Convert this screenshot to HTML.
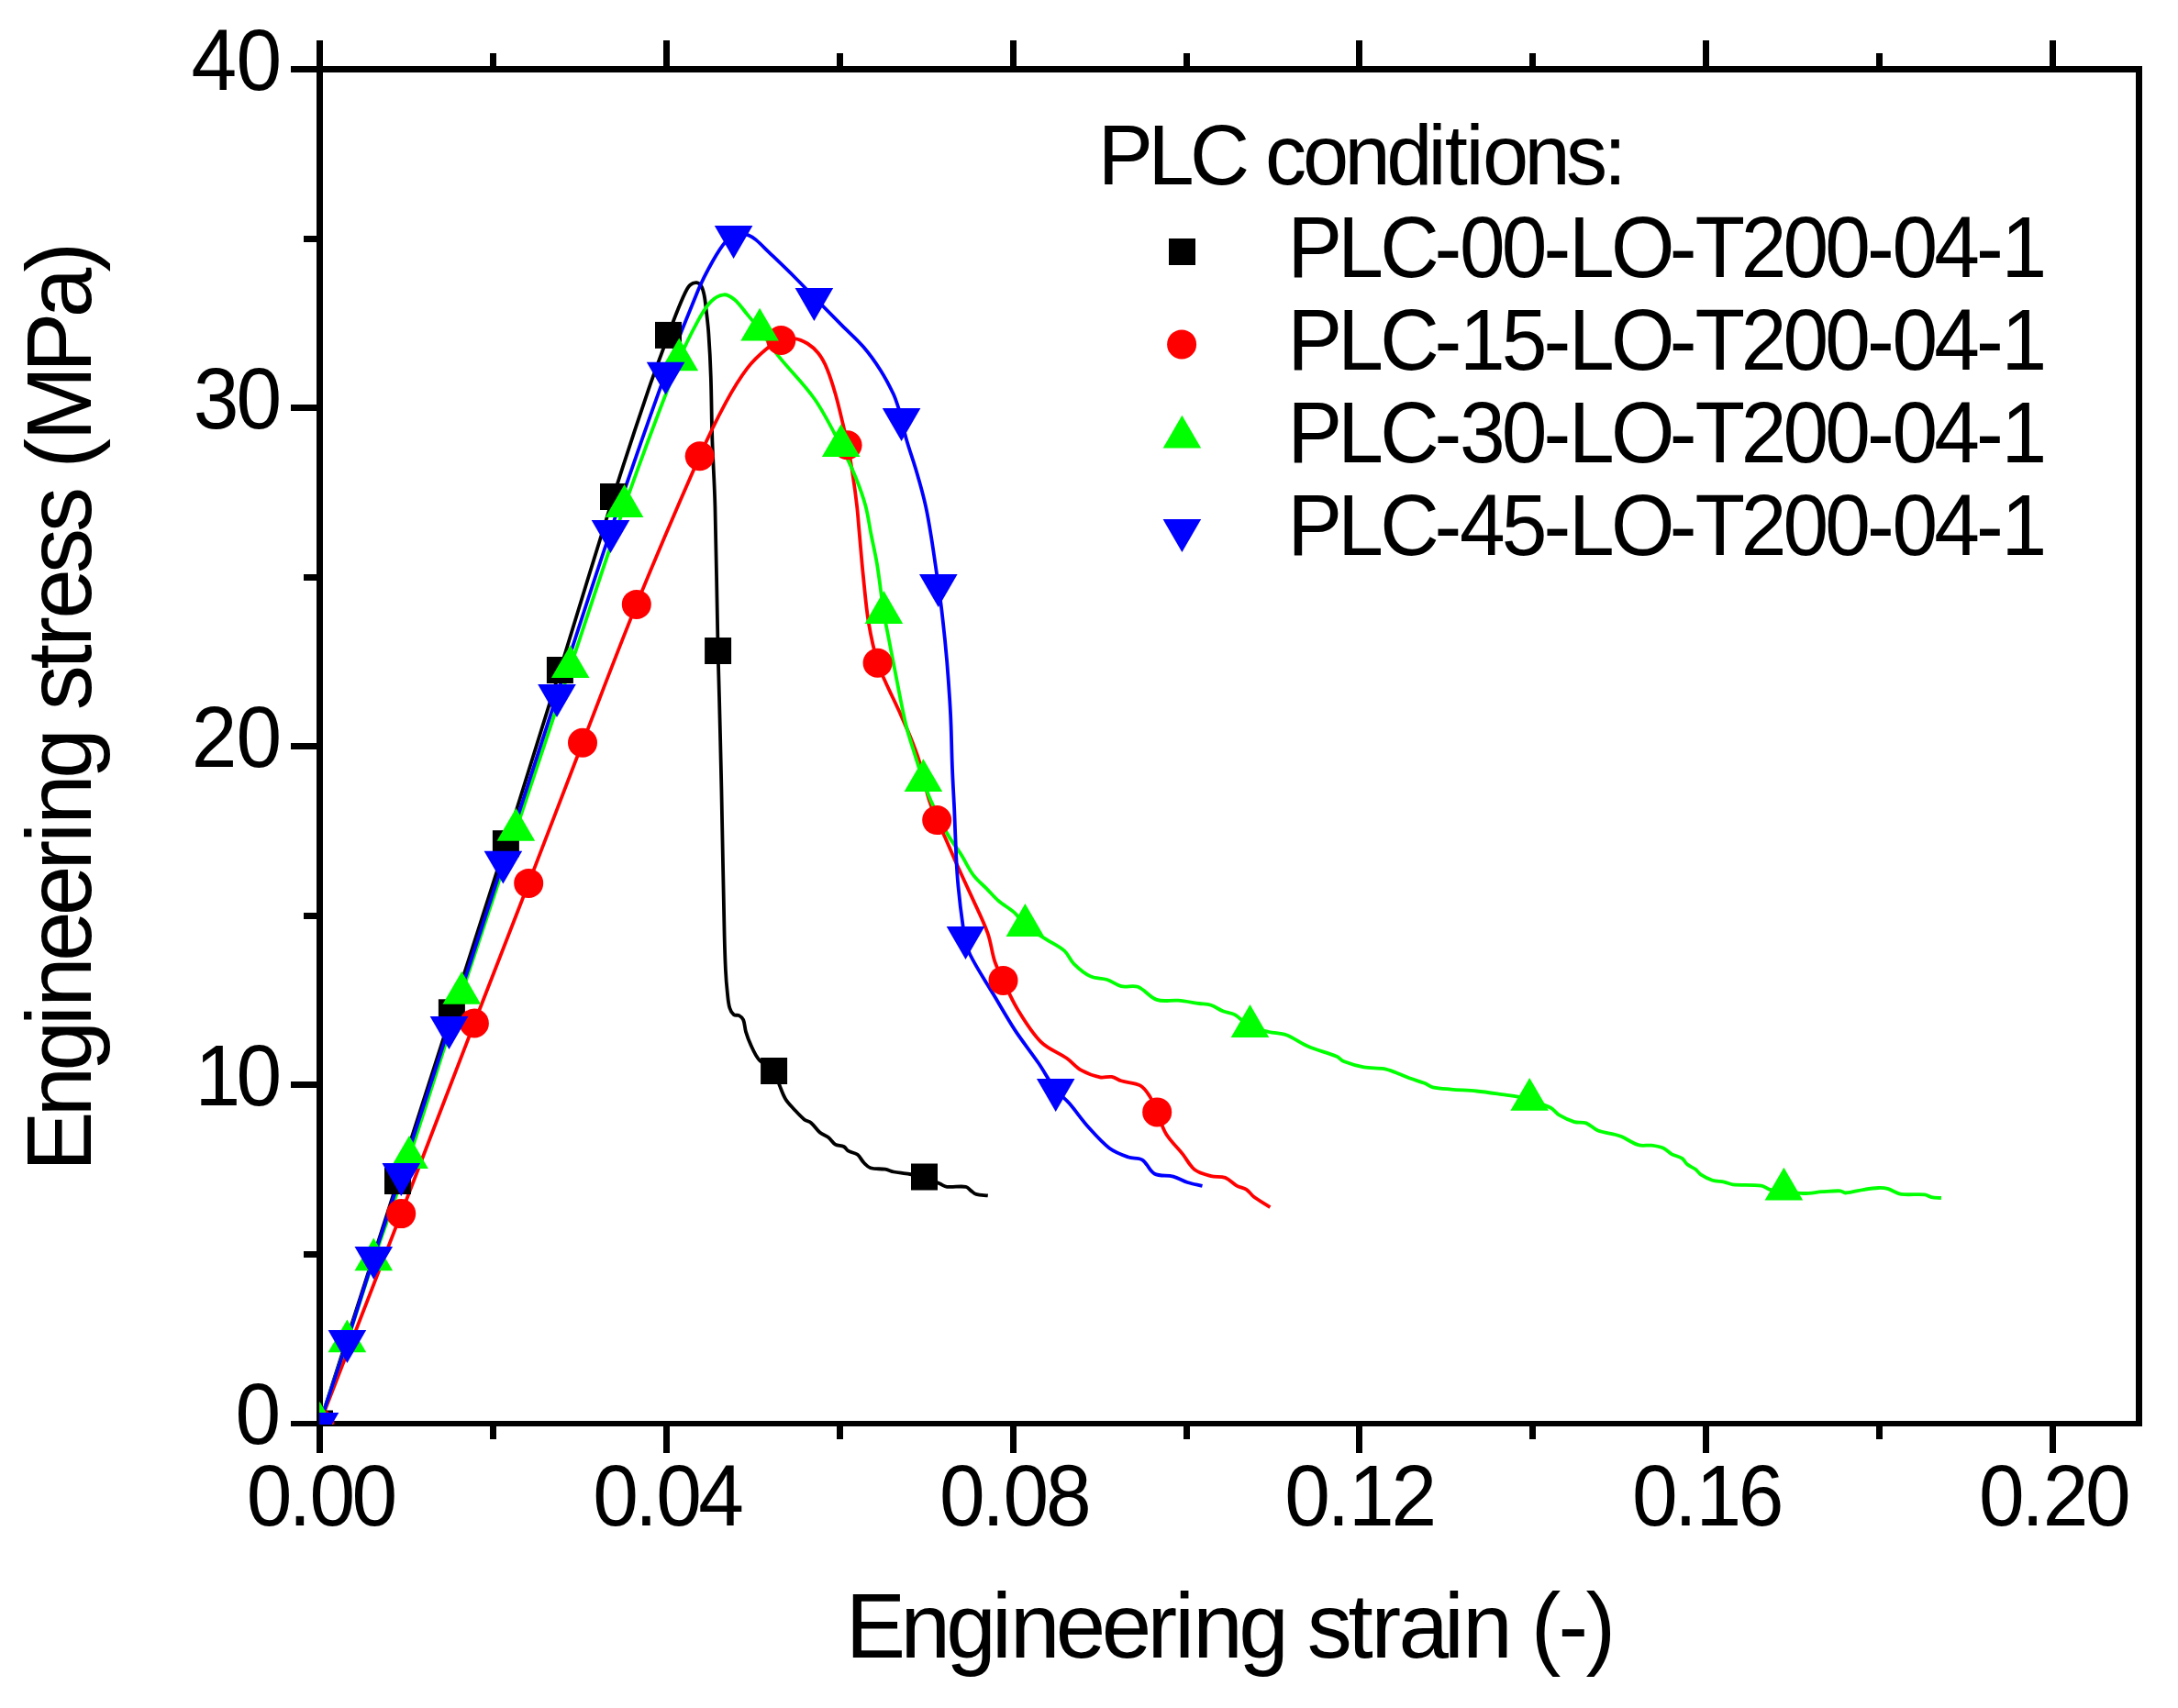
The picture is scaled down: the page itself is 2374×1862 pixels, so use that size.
<!DOCTYPE html>
<html lang="en"><head><meta charset="utf-8"><title>Engineering stress vs. engineering strain</title>
<style>
html,body{margin:0;padding:0;background:#fff;}
body{width:2374px;height:1862px;overflow:hidden;}
svg{display:block;}
text{font-family:"Liberation Sans",sans-serif;fill:#000;font-kerning:none;white-space:pre;}
</style></head><body>
<svg width="2374" height="1862" viewBox="0 0 2374 1862">
<rect x="0" y="0" width="2374" height="1862" fill="#fff"/>
<g fill="#000" shape-rendering="crispEdges">
<rect x="345" y="72" width="7" height="1483"/>
<rect x="2328" y="72" width="7" height="1483"/>
<rect x="345" y="72" width="1990" height="7"/>
<rect x="345" y="1549" width="1990" height="6"/>
<rect x="345" y="44" width="7" height="28"/>
<rect x="345" y="1555" width="7" height="29"/>
<rect x="534" y="58" width="7" height="14"/>
<rect x="534" y="1555" width="7" height="14"/>
<rect x="723" y="44" width="7" height="28"/>
<rect x="723" y="1555" width="7" height="29"/>
<rect x="912" y="58" width="7" height="14"/>
<rect x="912" y="1555" width="7" height="14"/>
<rect x="1101" y="44" width="7" height="28"/>
<rect x="1101" y="1555" width="7" height="29"/>
<rect x="1290" y="58" width="7" height="14"/>
<rect x="1290" y="1555" width="7" height="14"/>
<rect x="1478" y="44" width="7" height="28"/>
<rect x="1478" y="1555" width="7" height="29"/>
<rect x="1667" y="58" width="7" height="14"/>
<rect x="1667" y="1555" width="7" height="14"/>
<rect x="1856" y="44" width="7" height="28"/>
<rect x="1856" y="1555" width="7" height="29"/>
<rect x="2045" y="58" width="7" height="14"/>
<rect x="2045" y="1555" width="7" height="14"/>
<rect x="2234" y="44" width="7" height="28"/>
<rect x="2234" y="1555" width="7" height="29"/>
<rect x="317" y="1549" width="28" height="6"/>
<rect x="331" y="1364" width="14" height="7"/>
<rect x="317" y="1179" width="28" height="7"/>
<rect x="331" y="995" width="14" height="7"/>
<rect x="317" y="810" width="28" height="7"/>
<rect x="331" y="626" width="14" height="7"/>
<rect x="317" y="441" width="28" height="7"/>
<rect x="331" y="257" width="14" height="7"/>
<rect x="317" y="72" width="28" height="7"/>
</g>
<clipPath id="plotclip"><rect x="348" y="0" width="1983" height="1553"/></clipPath>
<g clip-path="url(#plotclip)">
<path d="M348.5 1552.0 C376.8 1463.8 405.2 1375.7 433.5 1287.5 C453.2 1226.3 472.8 1165.0 492.4 1103.8 C512.1 1042.4 532.0 981.1 551.4 919.7 C571.3 856.7 590.9 793.6 610.4 730.5 C629.9 667.5 648.7 604.4 668.5 541.5 C680.8 502.5 693.6 463.6 706.8 424.8 C713.6 404.8 721.3 385.2 728.5 365.4 C731.2 358.1 733.6 350.7 736.5 343.5 C739.7 335.4 742.9 327.2 746.7 319.4 C748.2 316.2 749.8 312.8 752.5 310.5 C754.3 308.9 757.1 307.9 759.5 308.2 C761.6 308.5 763.4 310.2 764.4 312.0 C766.2 315.0 766.9 318.6 767.6 322.0 C768.8 327.9 769.3 334.0 770.0 340.0 C770.9 348.0 771.9 355.9 772.4 363.9 C773.5 379.5 774.3 395.2 774.8 410.8 C775.6 434.2 775.6 457.6 776.4 481.0 C777.2 504.4 778.8 527.9 779.4 551.3 C780.8 604.0 781.4 656.8 782.6 709.5 C783.0 726.3 783.6 743.2 784.0 760.0 C784.8 793.3 785.7 826.7 786.4 860.0 C787.5 913.3 788.4 966.7 789.6 1020.0 C789.9 1032.5 790.3 1045.0 790.9 1057.5 C791.3 1065.6 791.9 1073.7 792.8 1081.8 C793.4 1087.5 793.7 1093.2 795.3 1098.7 C796.1 1101.5 797.6 1104.3 799.9 1106.2 C801.4 1107.4 803.9 1106.2 805.6 1107.1 C807.5 1108.1 809.4 1109.8 810.2 1111.8 C811.9 1115.9 811.7 1120.6 813.0 1124.9 C814.5 1130.0 816.4 1135.1 818.7 1139.9 C821.1 1145.1 823.3 1150.6 827.1 1154.9 C831.7 1160.0 839.3 1162.1 843.6 1167.5 C847.1 1171.8 847.5 1177.9 849.6 1183.0 C851.7 1188.0 853.3 1193.3 856.1 1197.9 C858.6 1202.1 862.2 1205.6 865.5 1209.2 C869.1 1213.1 872.6 1217.1 876.7 1220.4 C878.9 1222.2 882.0 1222.4 884.2 1224.2 C887.8 1227.2 890.1 1231.5 893.6 1234.5 C896.4 1236.9 900.1 1237.9 903.0 1240.1 C905.8 1242.3 907.4 1245.8 910.4 1247.6 C913.2 1249.2 916.9 1248.5 919.8 1250.0 C921.8 1251.0 922.6 1253.6 924.5 1254.7 C927.7 1256.6 931.8 1256.6 934.8 1258.8 C937.6 1260.9 938.8 1264.7 941.3 1267.2 C943.5 1269.5 945.8 1272.2 948.8 1273.2 C953.9 1274.8 959.5 1273.8 964.8 1274.7 C968.0 1275.2 970.9 1276.8 974.1 1277.5 C978.4 1278.4 982.8 1278.7 987.2 1279.4 C994.0 1280.5 1000.9 1281.0 1007.5 1283.0 C1013.5 1284.8 1019.0 1288.1 1024.7 1290.6 C1027.2 1291.7 1029.5 1293.5 1032.2 1293.8 C1039.0 1294.6 1046.0 1292.7 1052.8 1293.8 C1055.1 1294.2 1056.5 1296.7 1058.4 1298.1 C1060.2 1299.4 1061.8 1301.3 1064.0 1301.9 C1068.1 1303.1 1072.5 1302.9 1076.8 1303.4" fill="none" stroke="#000" stroke-width="3.8" stroke-linejoin="round" stroke-linecap="butt"/>
<path d="M348.5 1552.0 C378.1 1475.7 407.7 1399.4 437.2 1323.1 C463.9 1253.9 490.2 1184.7 516.9 1115.5 C536.5 1064.6 556.5 1013.8 576.2 962.9 C595.9 911.9 615.3 860.8 635.0 809.8 C654.5 759.5 673.4 708.9 693.8 658.9 C716.0 604.7 739.0 550.8 762.7 497.2 C771.4 477.4 780.8 457.9 791.1 438.9 C798.1 425.9 805.7 413.1 814.6 401.4 C820.6 393.5 828.0 386.6 835.6 380.3 C840.3 376.4 845.6 373.0 851.3 370.9 C856.0 369.2 861.2 368.5 866.1 369.1 C871.1 369.7 875.8 371.9 880.1 374.5 C884.6 377.3 888.7 380.9 891.9 385.0 C895.8 389.9 898.8 395.6 901.2 401.4 C905.0 410.5 907.9 420.0 910.6 429.5 C913.7 440.3 916.2 451.3 918.8 462.3 C920.6 469.8 922.5 477.4 924.0 485.0 C926.0 495.4 927.7 505.8 929.3 516.2 C931.1 527.9 932.7 539.6 934.0 551.3 C935.1 560.8 935.7 570.4 936.6 580.0 C938.0 595.6 939.2 611.2 940.8 626.8 C942.6 644.0 943.9 661.3 946.7 678.4 C949.2 693.3 952.4 708.2 956.6 722.7 C958.7 730.1 962.3 736.9 965.4 743.9 C970.7 755.7 976.5 767.3 981.8 779.1 C986.3 789.2 990.7 799.3 994.7 809.5 C997.7 817.2 1000.6 825.0 1002.9 832.9 C1006.5 845.3 1008.5 858.1 1012.2 870.4 C1014.6 878.5 1017.9 886.3 1021.2 894.1 C1024.2 901.2 1027.9 907.9 1031.0 914.9 C1035.1 924.0 1038.9 933.3 1043.0 942.5 C1048.4 954.5 1054.1 966.4 1059.5 978.4 C1065.3 991.3 1071.9 1004.0 1076.6 1017.3 C1080.2 1027.3 1081.0 1038.1 1084.3 1048.2 C1086.7 1055.4 1090.3 1062.1 1093.5 1068.9 C1098.4 1079.3 1102.8 1089.9 1108.8 1099.7 C1116.5 1112.3 1124.1 1125.3 1134.6 1135.8 C1142.5 1143.7 1153.8 1147.4 1162.9 1153.8 C1168.4 1157.7 1172.6 1163.4 1178.4 1166.7 C1184.8 1170.3 1191.8 1172.9 1199.0 1174.4 C1203.2 1175.3 1207.6 1173.2 1211.8 1173.9 C1215.5 1174.5 1218.5 1177.2 1222.1 1178.3 C1228.9 1180.4 1236.5 1180.0 1242.8 1183.4 C1247.4 1185.9 1250.3 1190.6 1253.1 1195.0 C1256.5 1200.4 1258.6 1206.5 1261.2 1212.4 C1264.6 1220.3 1266.6 1228.9 1271.1 1236.2 C1276.0 1244.3 1283.2 1250.7 1289.1 1258.1 C1293.5 1263.6 1296.4 1270.6 1302.0 1274.9 C1307.1 1278.9 1313.8 1280.4 1320.0 1282.1 C1325.0 1283.4 1330.6 1282.1 1335.5 1283.9 C1340.4 1285.8 1343.8 1290.4 1348.4 1292.9 C1351.6 1294.7 1355.6 1294.8 1358.7 1296.8 C1361.8 1298.8 1363.5 1302.3 1366.4 1304.5 C1372.1 1308.8 1378.4 1312.2 1384.4 1316.1" fill="none" stroke="#f00" stroke-width="3.8" stroke-linejoin="round" stroke-linecap="butt"/>
<path d="M348.5 1552.0 C358.5 1522.1 368.5 1492.2 378.4 1462.3 C388.1 1432.7 397.3 1402.9 407.3 1373.3 C419.9 1336.1 433.7 1299.3 446.0 1262.0 C465.7 1202.5 483.9 1142.5 503.3 1082.9 C522.7 1023.5 542.7 964.2 562.4 904.9 C582.1 845.7 601.9 786.4 621.7 727.2 C641.3 668.8 660.0 610.1 680.6 552.0 C699.6 498.4 719.4 445.1 740.3 392.3 C746.1 377.7 753.2 363.7 760.7 349.9 C764.7 342.5 768.9 334.8 774.8 328.8 C778.5 325.0 783.5 321.8 788.8 321.3 C793.1 320.9 797.2 323.8 800.5 326.5 C806.0 331.1 810.0 337.4 814.6 342.9 C819.2 348.4 823.8 354.0 828.1 359.7 C835.1 369.0 841.3 379.0 848.5 388.1 C861.2 404.1 876.2 418.2 887.9 435.0 C899.1 451.1 907.6 468.9 916.7 486.2 C922.5 497.2 927.8 508.5 932.5 520.0 C936.7 530.2 940.5 540.6 943.4 551.3 C946.2 561.5 947.4 572.1 949.5 582.5 C951.6 593.4 954.2 604.2 956.0 615.1 C958.9 632.7 960.6 650.4 963.4 668.0 C964.9 677.8 967.0 687.4 968.9 697.1 C971.6 711.2 974.3 725.2 977.1 739.3 C980.5 756.5 983.5 773.8 987.6 790.8 C990.5 802.7 994.6 814.2 998.2 825.9 C1000.8 834.4 1003.5 842.8 1006.4 851.2 C1008.9 858.4 1011.4 865.7 1014.6 872.7 C1020.4 885.4 1026.5 898.0 1033.3 910.2 C1037.4 917.6 1042.9 924.1 1047.4 931.3 C1052.3 939.0 1055.9 947.4 1061.4 954.7 C1065.4 960.0 1070.8 964.1 1075.5 968.8 C1079.8 973.2 1083.7 978.0 1088.3 982.0 C1093.9 986.9 1100.7 990.3 1106.2 995.4 C1110.5 999.4 1112.9 1005.2 1117.4 1009.0 C1124.2 1014.7 1132.2 1018.9 1139.7 1023.7 C1146.5 1028.1 1154.2 1031.3 1160.3 1036.6 C1164.7 1040.5 1166.4 1046.7 1170.6 1050.8 C1176.0 1056.1 1181.9 1061.2 1188.7 1064.4 C1194.2 1067.0 1200.9 1066.1 1206.7 1068.0 C1212.1 1069.7 1216.6 1073.9 1222.1 1075.2 C1228.0 1076.6 1234.6 1073.7 1240.2 1075.8 C1248.0 1078.8 1252.9 1087.2 1260.8 1089.9 C1268.1 1092.4 1276.3 1090.0 1284.0 1090.7 C1291.8 1091.4 1299.5 1092.9 1307.2 1094.0 C1311.5 1094.6 1315.9 1094.5 1320.0 1095.8 C1324.6 1097.3 1328.4 1100.5 1332.9 1102.3 C1337.1 1104.0 1341.9 1104.0 1345.8 1106.2 C1351.9 1109.6 1356.2 1115.8 1362.5 1119.0 C1368.9 1122.2 1376.1 1123.4 1383.1 1125.0 C1389.3 1126.5 1396.0 1126.1 1402.0 1128.3 C1410.4 1131.4 1417.6 1137.3 1425.9 1140.8 C1436.0 1145.1 1446.9 1147.5 1457.1 1151.8 C1459.9 1153.0 1461.7 1155.9 1464.5 1157.0 C1471.6 1159.8 1479.0 1162.0 1486.5 1163.4 C1493.8 1164.7 1501.3 1163.9 1508.6 1165.1 C1513.0 1165.8 1517.2 1167.7 1521.4 1169.3 C1526.4 1171.1 1531.1 1173.5 1536.1 1175.3 C1541.5 1177.3 1547.2 1178.7 1552.6 1180.8 C1555.8 1182.0 1558.5 1184.5 1561.8 1185.3 C1568.4 1186.8 1575.2 1187.0 1582.0 1187.6 C1591.2 1188.4 1600.4 1188.6 1609.6 1189.5 C1618.8 1190.4 1627.9 1191.8 1637.1 1193.1 C1643.2 1194.0 1649.4 1194.7 1655.5 1195.9 C1659.4 1196.6 1663.4 1197.5 1667.2 1198.8 C1675.1 1201.5 1683.0 1204.0 1690.4 1207.8 C1694.0 1209.7 1696.1 1213.6 1699.6 1215.7 C1704.8 1218.8 1710.3 1221.4 1716.1 1223.1 C1720.2 1224.3 1724.9 1222.9 1728.9 1224.4 C1733.7 1226.2 1737.1 1230.7 1741.8 1232.6 C1747.0 1234.7 1752.8 1234.9 1758.3 1236.3 C1761.3 1237.1 1764.4 1237.8 1767.3 1239.0 C1773.6 1241.7 1779.1 1246.3 1785.7 1248.2 C1790.4 1249.6 1795.5 1248.1 1800.4 1248.7 C1804.8 1249.3 1809.2 1250.0 1813.3 1251.8 C1816.7 1253.3 1819.1 1256.5 1822.4 1258.3 C1825.9 1260.2 1830.2 1260.6 1833.5 1262.8 C1835.9 1264.4 1836.8 1267.5 1839.0 1269.3 C1841.8 1271.6 1845.3 1272.7 1848.2 1274.8 C1850.3 1276.4 1851.5 1278.9 1853.7 1280.3 C1857.7 1282.9 1862.0 1285.2 1866.5 1286.7 C1870.6 1288.0 1875.1 1287.7 1879.4 1288.6 C1882.5 1289.3 1885.4 1291.0 1888.6 1291.3 C1899.0 1292.3 1909.5 1291.2 1919.8 1292.6 C1923.1 1293.1 1925.7 1296.0 1929.0 1296.8 C1934.0 1298.0 1939.3 1297.9 1944.4 1298.5 C1951.5 1299.3 1958.6 1300.9 1965.7 1301.0 C1972.5 1301.1 1979.2 1299.7 1985.9 1299.2 C1992.6 1298.8 1999.4 1298.0 2006.1 1298.3 C2008.1 1298.4 2009.6 1300.6 2011.6 1300.5 C2018.4 1300.1 2025.0 1297.8 2031.8 1296.8 C2037.0 1296.0 2042.2 1295.2 2047.4 1295.0 C2050.8 1294.9 2054.2 1295.0 2057.5 1295.9 C2062.6 1297.3 2067.0 1301.0 2072.2 1301.8 C2080.7 1303.1 2089.4 1301.4 2097.9 1302.3 C2100.5 1302.6 2102.7 1304.6 2105.3 1305.1 C2108.8 1305.8 2112.4 1305.7 2115.9 1306.0" fill="none" stroke="#0f0" stroke-width="3.8" stroke-linejoin="round" stroke-linecap="butt"/>
<path d="M348.5 1552.0 C358.5 1522.0 368.6 1492.1 378.4 1462.0 C388.2 1431.7 397.5 1401.1 407.3 1370.8 C417.1 1340.5 427.4 1310.3 437.3 1280.0 C454.8 1226.7 472.1 1173.3 489.5 1120.0 C509.1 1059.9 528.9 999.8 548.4 939.7 C568.0 879.2 587.3 818.5 607.0 758.0 C626.4 698.3 645.4 638.5 665.5 579.0 C685.0 521.4 704.8 463.9 725.6 406.7 C736.6 376.6 748.3 346.7 760.7 317.1 C765.4 305.8 771.1 294.9 777.1 284.3 C781.2 276.9 785.6 269.6 791.1 263.2 C793.7 260.2 797.4 258.2 801.0 256.5 C803.5 255.3 806.3 254.8 809.0 254.8 C811.4 254.8 813.8 255.6 816.0 256.6 C818.8 257.8 821.5 259.4 823.9 261.4 C828.9 265.6 833.3 270.4 838.0 274.9 C847.7 284.2 857.5 293.5 867.0 303.0 C873.9 309.9 880.6 317.0 887.4 324.0 C897.4 334.2 907.5 344.4 917.6 354.6 C925.4 362.4 933.8 369.6 941.0 378.0 C947.9 386.0 954.1 394.7 959.8 403.7 C965.1 412.0 969.6 420.7 973.8 429.5 C976.3 434.8 977.9 440.4 979.7 445.9 C980.9 449.5 981.7 453.3 982.6 457.0 C984.4 464.2 985.8 471.5 987.9 478.7 C991.5 491.3 996.0 503.6 999.6 516.2 C1003.0 527.8 1006.3 539.5 1008.9 551.3 C1011.4 562.4 1013.2 573.7 1015.0 585.0 C1017.8 602.6 1020.3 620.3 1022.8 638.0 C1024.5 649.9 1026.1 661.8 1027.4 673.7 C1029.2 689.3 1030.8 704.9 1032.1 720.5 C1033.7 740.0 1035.1 759.5 1036.1 779.1 C1037.1 798.6 1037.2 818.1 1038.0 837.6 C1038.6 853.2 1039.6 868.8 1040.3 884.4 C1041.0 901.3 1041.5 918.1 1042.3 935.0 C1042.8 945.3 1043.4 955.6 1044.4 965.8 C1045.8 980.4 1047.5 995.0 1049.6 1009.6 C1050.2 1013.8 1051.5 1017.9 1052.5 1022.0 C1054.0 1028.2 1054.5 1034.8 1057.3 1040.5 C1064.7 1055.7 1074.4 1069.7 1083.0 1084.3 C1090.7 1097.2 1098.0 1110.3 1106.2 1122.9 C1114.3 1135.3 1123.7 1146.8 1132.0 1159.0 C1138.5 1168.5 1143.7 1178.9 1150.7 1188.0 C1154.9 1193.5 1160.9 1197.5 1165.5 1202.8 C1172.7 1211.1 1178.8 1220.3 1186.1 1228.5 C1193.4 1236.6 1200.6 1245.1 1209.3 1251.7 C1215.4 1256.3 1222.7 1258.9 1229.9 1261.5 C1234.8 1263.3 1240.9 1261.8 1245.3 1264.6 C1250.8 1268.1 1252.4 1276.4 1258.2 1279.5 C1264.3 1282.8 1272.1 1280.8 1278.8 1282.6 C1284.2 1284.0 1289.0 1287.3 1294.3 1289.0 C1299.6 1290.7 1305.1 1291.6 1310.5 1292.9" fill="none" stroke="#00f" stroke-width="3.8" stroke-linejoin="round" stroke-linecap="butt"/>
<rect x="334.0" y="1537.5" width="29" height="29" fill="#000"/>
<rect x="419.0" y="1273.0" width="29" height="29" fill="#000"/>
<rect x="477.9" y="1089.3" width="29" height="29" fill="#000"/>
<rect x="536.9" y="905.2" width="29" height="29" fill="#000"/>
<rect x="595.9" y="716.0" width="29" height="29" fill="#000"/>
<rect x="654.0" y="527.0" width="29" height="29" fill="#000"/>
<rect x="714.0" y="350.9" width="29" height="29" fill="#000"/>
<rect x="768.1" y="695.0" width="29" height="29" fill="#000"/>
<rect x="829.1" y="1153.0" width="29" height="29" fill="#000"/>
<rect x="993.0" y="1268.5" width="29" height="29" fill="#000"/>
<circle cx="348.5" cy="1552.0" r="16.0" fill="#f00"/>
<circle cx="437.2" cy="1323.1" r="16.0" fill="#f00"/>
<circle cx="516.9" cy="1115.5" r="16.0" fill="#f00"/>
<circle cx="576.2" cy="962.9" r="16.0" fill="#f00"/>
<circle cx="635.0" cy="809.8" r="16.0" fill="#f00"/>
<circle cx="693.8" cy="658.9" r="16.0" fill="#f00"/>
<circle cx="762.7" cy="497.2" r="16.0" fill="#f00"/>
<circle cx="851.3" cy="370.9" r="16.0" fill="#f00"/>
<circle cx="923.6" cy="485.2" r="16.0" fill="#f00"/>
<circle cx="956.6" cy="722.7" r="16.0" fill="#f00"/>
<circle cx="1021.2" cy="894.1" r="16.0" fill="#f00"/>
<circle cx="1093.5" cy="1068.9" r="16.0" fill="#f00"/>
<circle cx="1261.2" cy="1212.4" r="16.0" fill="#f00"/>
<polygon points="348.5,1528.1 327.7,1563.9 369.3,1563.9" fill="#0f0"/>
<polygon points="378.4,1438.4 357.6,1474.2 399.2,1474.2" fill="#0f0"/>
<polygon points="407.3,1349.4 386.5,1385.2 428.1,1385.2" fill="#0f0"/>
<polygon points="446.0,1238.1 425.2,1273.9 466.8,1273.9" fill="#0f0"/>
<polygon points="503.3,1059.0 482.5,1094.8 524.1,1094.8" fill="#0f0"/>
<polygon points="562.4,881.0 541.6,916.8 583.2,916.8" fill="#0f0"/>
<polygon points="621.7,703.3 600.9,739.1 642.5,739.1" fill="#0f0"/>
<polygon points="680.6,528.1 659.8,563.9 701.4,563.9" fill="#0f0"/>
<polygon points="740.3,368.4 719.5,404.2 761.1,404.2" fill="#0f0"/>
<polygon points="828.1,335.8 807.3,371.6 848.9,371.6" fill="#0f0"/>
<polygon points="916.7,462.3 895.9,498.1 937.5,498.1" fill="#0f0"/>
<polygon points="963.4,644.1 942.6,679.9 984.2,679.9" fill="#0f0"/>
<polygon points="1006.4,827.3 985.6,863.1 1027.2,863.1" fill="#0f0"/>
<polygon points="1117.4,985.1 1096.6,1020.9 1138.2,1020.9" fill="#0f0"/>
<polygon points="1362.5,1095.1 1341.7,1130.9 1383.3,1130.9" fill="#0f0"/>
<polygon points="1667.2,1174.9 1646.4,1210.7 1688.0,1210.7" fill="#0f0"/>
<polygon points="1944.4,1272.7 1923.6,1308.5 1965.2,1308.5" fill="#0f0"/>
<polygon points="348.5,1575.9 327.7,1540.1 369.3,1540.1" fill="#00f"/>
<polygon points="378.4,1485.9 357.6,1450.1 399.2,1450.1" fill="#00f"/>
<polygon points="407.3,1394.7 386.5,1358.9 428.1,1358.9" fill="#00f"/>
<polygon points="437.3,1303.9 416.5,1268.1 458.1,1268.1" fill="#00f"/>
<polygon points="489.5,1143.9 468.7,1108.1 510.3,1108.1" fill="#00f"/>
<polygon points="548.4,963.6 527.6,927.8 569.2,927.8" fill="#00f"/>
<polygon points="607.0,781.9 586.2,746.1 627.8,746.1" fill="#00f"/>
<polygon points="665.5,602.9 644.7,567.1 686.3,567.1" fill="#00f"/>
<polygon points="725.6,430.6 704.8,394.8 746.4,394.8" fill="#00f"/>
<polygon points="799.6,281.9 778.8,246.1 820.4,246.1" fill="#00f"/>
<polygon points="887.4,349.9 866.6,314.1 908.2,314.1" fill="#00f"/>
<polygon points="982.6,480.9 961.8,445.1 1003.4,445.1" fill="#00f"/>
<polygon points="1022.8,661.9 1002.0,626.1 1043.6,626.1" fill="#00f"/>
<polygon points="1052.5,1045.9 1031.7,1010.1 1073.3,1010.1" fill="#00f"/>
<polygon points="1150.7,1211.9 1129.9,1176.1 1171.5,1176.1" fill="#00f"/>
</g>
<text transform="translate(210.50 97.80) scale(0.9450 1)" x="-2.17 49.76" y="0" font-size="94.50">40</text>
<text transform="translate(214.10 466.93) scale(0.9450 1)" x="-3.60 45.95" y="0" font-size="94.50">30</text>
<text transform="translate(213.20 836.05) scale(0.9450 1)" x="-4.75 46.90" y="0" font-size="94.50">20</text>
<text transform="translate(219.40 1205.17) scale(0.9450 1)" x="-7.20 40.34" y="0" font-size="94.50">10</text>
<text transform="translate(260.00 1574.30) scale(0.9450 1)" x="-3.69" y="0" font-size="94.50">0</text>
<text transform="translate(272.30 1662.80) scale(0.9450 1)" x="-3.69 44.58 69.07 117.59" y="0" font-size="94.50">0.00</text>
<text transform="translate(649.80 1662.80) scale(0.9450 1)" x="-3.69 44.72 69.28 117.94" y="0" font-size="94.50">0.04</text>
<text transform="translate(1027.50 1662.80) scale(0.9450 1)" x="-3.69 45.13 69.89 118.96" y="0" font-size="94.50">0.08</text>
<text transform="translate(1403.70 1662.80) scale(0.9450 1)" x="-3.69 45.26 70.09 119.29" y="0" font-size="94.50">0.12</text>
<text transform="translate(1782.50 1662.80) scale(0.9450 1)" x="-3.69 45.06 69.79 118.79" y="0" font-size="94.50">0.16</text>
<text transform="translate(2160.50 1662.80) scale(0.9450 1)" x="-3.69 45.21 70.02 119.18" y="0" font-size="94.50">0.20</text>
<text transform="translate(929.80 1807.00) scale(0.9750 1)" x="-8.24 53.00 104.11 155.05 175.64 226.75 277.87 328.86 359.41 380.00 431.12 482.08 507.73 553.57 579.13 609.85 660.79 681.38 732.35 757.91 788.52 819.12" y="0" font-size="100.50">Engineering strain (-)</text>
<text transform="translate(99.00 1269.00) rotate(-90) scale(0.9750 1)" x="-8.24 52.97 104.06 154.97 175.55 226.64 277.73 328.70 359.23 379.82 430.91 481.85 507.49 553.30 578.85 609.56 660.62 706.55 752.36 777.91 808.76 885.20 946.41 997.38" y="0" font-size="100.50">Engineering stress (MPa)</text>
<text transform="translate(1204.20 200.80) scale(0.9750 1)" x="-7.59 48.44 95.27 155.80 179.25 221.30 268.06 314.82 361.44 380.14 403.47 422.29 469.04 515.78 557.72" y="0" font-size="92.50">PLC conditions:</text>
<text transform="translate(1410.80 301.80) scale(0.9450 1)" x="-7.75 50.28 98.90 161.50 190.72 239.19 287.47 316.69 365.36 432.76 462.03 515.22 563.70 612.17 660.44 689.67 738.14 786.41 815.64" y="0" font-size="94.50">PLC-00-LO-T200-04-1</text>
<text transform="translate(1410.80 402.73) scale(0.9450 1)" x="-7.75 50.28 98.90 161.50 190.72 239.19 287.47 316.69 365.36 432.76 462.03 515.22 563.70 612.17 660.44 689.67 738.14 786.41 815.64" y="0" font-size="94.50">PLC-15-LO-T200-04-1</text>
<text transform="translate(1410.80 503.66) scale(0.9450 1)" x="-7.75 50.28 98.90 161.50 190.72 239.19 287.47 316.69 365.36 432.76 462.03 515.22 563.70 612.17 660.44 689.67 738.14 786.41 815.64" y="0" font-size="94.50">PLC-30-LO-T200-04-1</text>
<text transform="translate(1410.80 604.59) scale(0.9450 1)" x="-7.75 50.28 98.90 161.50 190.72 239.19 287.47 316.69 365.36 432.76 462.03 515.22 563.70 612.17 660.44 689.67 738.14 786.41 815.64" y="0" font-size="94.50">PLC-45-LO-T200-04-1</text>
<rect x="1274.0" y="260.0" width="29" height="29" fill="#000"/>
<circle cx="1288.1" cy="375.4" r="16.0" fill="#f00"/>
<polygon points="1288.4,452.8 1267.6,488.6 1309.2,488.6" fill="#0f0"/>
<polygon points="1288.4,601.9 1267.6,566.1 1309.2,566.1" fill="#00f"/>
</svg>
</body></html>
